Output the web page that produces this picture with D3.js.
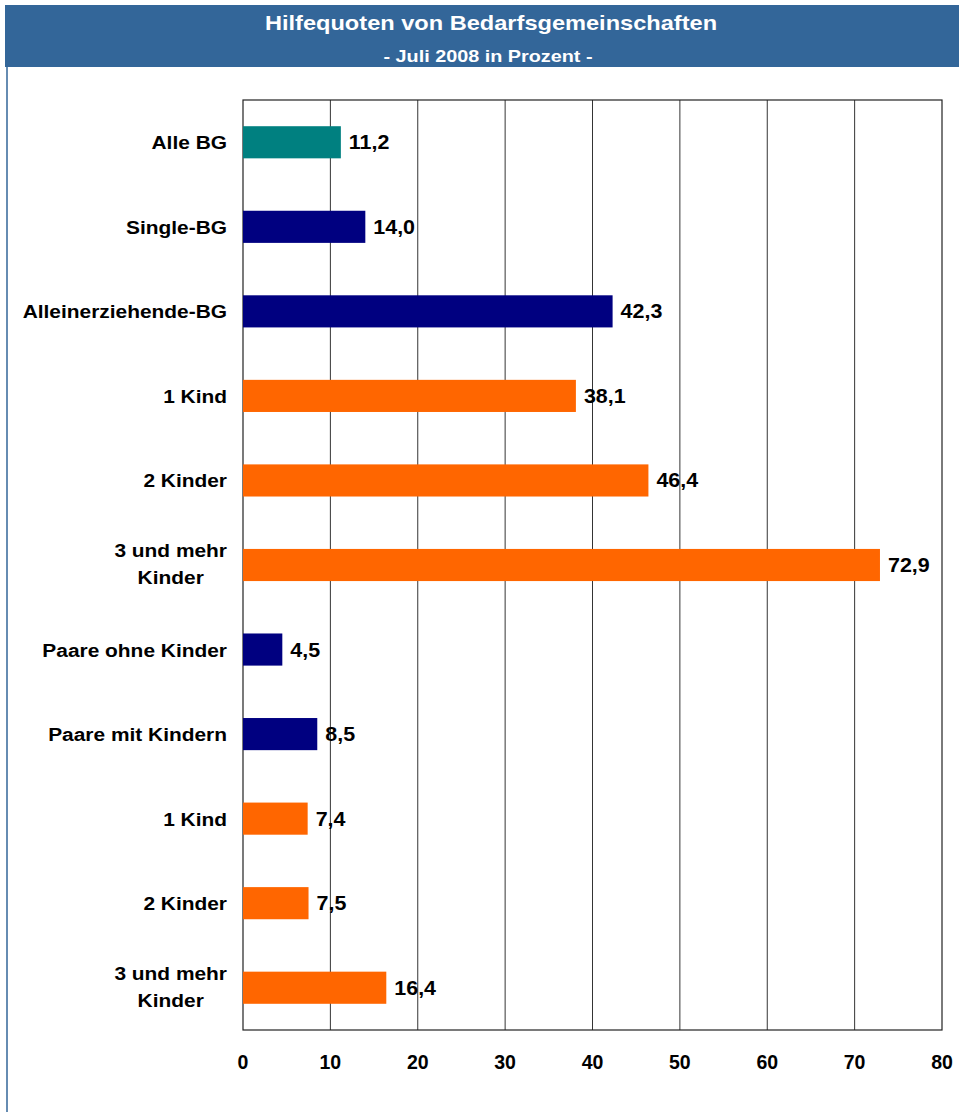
<!DOCTYPE html>
<html>
<head>
<meta charset="utf-8">
<script src="https://cdn.jsdelivr.net/npm/d3@7"></script>
<style>
  body { margin: 0; background: #fff; }
  svg { display: block; font-family: Arial, "Liberation Sans", sans-serif; }
</style>
</head>
<body>
<svg></svg>
<script>
const width = 959;
const height = 1112;

// data
const categories = ['Alle BG', 'Single-BG', 'Alleinerziehende-BG', '1 Kind', '2 Kinder', '3 und mehr|Kinder',
  'Paare ohne Kinder', 'Paare mit Kindern', '1 Kind ', '2 Kinder ', '3 und mehr|Kinder '];
const values = [11.2, 14.0, 42.3, 38.1, 46.4, 72.9, 4.5, 8.5, 7.4, 7.5, 16.4];
const groups = ['alle', 'haupt', 'haupt', 'sub', 'sub', 'sub', 'haupt', 'haupt', 'sub', 'sub', 'sub'];
const xTicks = [0, 10, 20, 30, 40, 50, 60, 70, 80];

const colorOf = { alle: '#008080', haupt: '#000080', sub: '#ff6600' };

const margin = { top: 100, right: 17, bottom: 82, left: 243 };

const svg = d3.select('svg')
  .attr('width', width)
  .attr('height', height);

// text a bit wider than plain Arial, like the original
function wideText(sel, px, py, sx) {
  return sel.append('text')
    .attr('transform', `translate(${px},${py}) scale(${sx},1)`);
}

// header
svg.append('rect')
  .attr('x', 5).attr('y', 5)
  .attr('width', width - 5).attr('height', 62)
  .attr('fill', '#336699');
svg.append('line')
  .attr('x1', 7).attr('x2', 7)
  .attr('y1', 67).attr('y2', height)
  .attr('stroke', '#336699').attr('stroke-width', 1.5);

wideText(svg, 491, 30, 1.18)
  .attr('text-anchor', 'middle')
  .attr('fill', '#fff')
  .style('font-size', '20px').style('font-weight', 'bold')
  .text('Hilfequoten von Bedarfsgemeinschaften');
wideText(svg, 488, 62, 1.2)
  .attr('text-anchor', 'middle')
  .attr('fill', '#fff')
  .style('font-size', '16.5px').style('font-weight', 'bold')
  .text('- Juli 2008 in Prozent -');

const x = d3.scaleLinear()
  .domain([0, 80])
  .range([margin.left, width - margin.right]);

const y = d3.scaleBand()
  .domain(categories)
  .range([margin.top, height - margin.bottom])
  .paddingInner(0.62)
  .paddingOuter(0.31);

// grid
svg.append('g')
  .selectAll('line')
  .data(xTicks.slice(1, -1))
  .join('line')
  .attr('x1', (d) => x(d)).attr('x2', (d) => x(d))
  .attr('y1', margin.top).attr('y2', height - margin.bottom)
  .attr('stroke', '#000').attr('stroke-width', 0.8);

// frame
svg.append('rect')
  .attr('x', x(0)).attr('y', margin.top)
  .attr('width', x(80) - x(0))
  .attr('height', height - margin.bottom - margin.top)
  .attr('fill', 'none')
  .attr('stroke', '#222').attr('stroke-width', 1.2);

// bars
svg.append('g')
  .selectAll('rect')
  .data(values)
  .join('rect')
  .attr('x', x(0))
  .attr('y', (d, i) => y(categories[i]))
  .attr('width', (d) => x(d) - x(0))
  .attr('height', y.bandwidth())
  .attr('fill', (d, i) => colorOf[groups[i]]);

// value labels
const valG = svg.append('g');
values.forEach((v, i) => {
  wideText(valG, x(v) + 8, y(categories[i]) + y.bandwidth() / 2 + 7, 1.1)
    .style('font-size', '19.5px').style('font-weight', 'bold')
    .text(v.toFixed(1).replace('.', ','));
});

// category labels
const labG = svg.append('g');
categories.forEach((c) => {
  const parts = c.trim().split('|');
  const cy = y(c) + y.bandwidth() / 2;
  if (parts.length === 1) {
    wideText(labG, 227, cy + 7, 1.1)
      .attr('text-anchor', 'end')
      .style('font-size', '19px').style('font-weight', 'bold')
      .text(parts[0]);
  } else {
    const first = wideText(labG, 227, cy - 8, 1.1)
      .attr('text-anchor', 'end')
      .style('font-size', '19px').style('font-weight', 'bold')
      .text(parts[0]);
    const w = first.node().getComputedTextLength() * 1.1;
    wideText(labG, 227 - w / 2, cy + 19, 1.1)
      .attr('text-anchor', 'middle')
      .style('font-size', '19px').style('font-weight', 'bold')
      .text(parts[1]);
  }
});

// x axis labels
svg.append('g')
  .selectAll('text')
  .data(xTicks)
  .join('text')
  .attr('x', (d) => x(d))
  .attr('y', 1069)
  .attr('text-anchor', 'middle')
  .style('font-size', '19.5px').style('font-weight', 'bold')
  .text((d) => d);
</script>
</body>
</html>
